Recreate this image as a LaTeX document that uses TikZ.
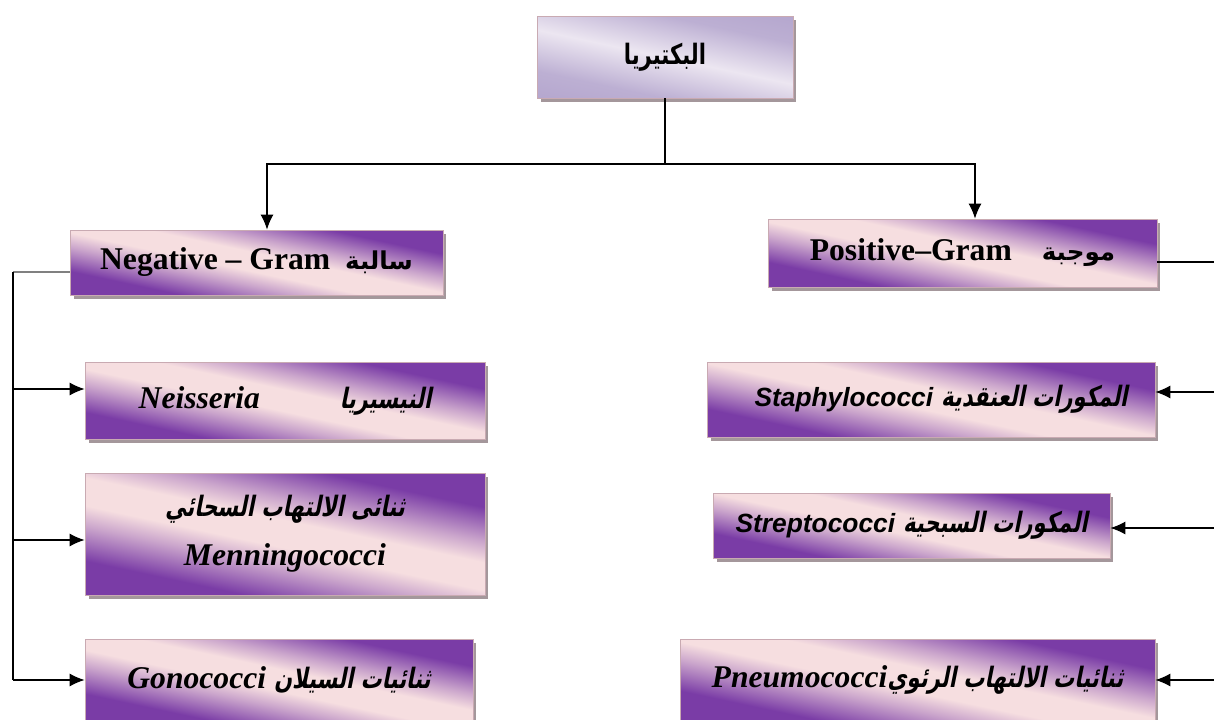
\documentclass[tikz,border=0pt]{standalone}
\usepackage{fontspec}
\setmainfont{Liberation Serif}
\setsansfont{Liberation Sans}
\newfontfamily\arabicfont[Script=Arabic]{DejaVu Sans}
\newfontfamily\arabicnarrow[Script=Arabic,FakeStretch=0.75]{DejaVu Sans}
\newfontfamily\arabicit[Script=Arabic,FakeSlant=0.2,FakeStretch=0.75]{DejaVu Sans}
\TeXXeTstate=1
\newcommand\arabup[1]{{\arabicfont\upshape\fontsize{14}{17}\selectfont\beginR #1\endR}}
\newcommand\arabsl[1]{{\arabicit\upshape\fontsize{16}{19}\selectfont\beginR #1\endR}}
\usetikzlibrary{shadows,arrows.meta}
\definecolor{boxpink}{HTML}{F6DEE0}
\definecolor{boxpurple}{HTML}{7A3CA6}
\definecolor{lavlight}{HTML}{ECE6F1}
\definecolor{lavdark}{HTML}{A898C6}
\definecolor{boxedge}{HTML}{C9AAB2}
\definecolor{shadowgray}{HTML}{A4979B}
\pgfdeclarehorizontalshading{pinkpurple}{100bp}{color(0bp)=(boxpurple); color(30bp)=(boxpurple); color(40bp)=(boxpurple!35!boxpink); color(46bp)=(boxpink); color(54bp)=(boxpink); color(60bp)=(boxpurple!35!boxpink); color(70bp)=(boxpurple); color(100bp)=(boxpurple)}
\pgfdeclarehorizontalshading{lavender}{100bp}{color(0bp)=(lavdark); color(32bp)=(lavdark!70!lavlight); color(50bp)=(lavlight); color(68bp)=(lavdark!70!lavlight); color(100bp)=(lavdark)}
\tikzset{>={Latex[length=3mm,width=2.6mm]}}
\tikzset{
  genus/.style = {
    draw=boxedge, line width=0.4pt, shade, shading=pinkpurple, shading angle=78,
    drop shadow={shadow xshift=0.07cm, shadow yshift=-0.08cm, fill=shadowgray, opacity=1},
    inner sep=0pt, align=center, font=\fontsize{18}{28}\selectfont\bfseries
  },
  root/.style = {genus, shading=lavender},
  link/.style = {line width=0.8pt}
}

\begin{document}
\begin{tikzpicture}[x=0.02cm,y=-0.02cm]
  \useasboundingbox (0,0) rectangle (1214,720);
  \clip (0,0) rectangle (1214,720);
  % top
  \node[root, minimum width=5.12cm, minimum height=1.64cm] (bact) at (665,57)
    {\arabicnarrow\fontsize{16}{19}\selectfont\beginR البكتيريا\endR};
  % gram groups
  \node[genus, minimum width=7.46cm, minimum height=1.3cm] (neg) at (256.5,262.5)
    {Negative -- Gram\hspace{0.3cm}\arabup{سالبة}};
  \node[genus, minimum width=7.78cm, minimum height=1.36cm] (pos) at (962.5,253)
    {Positive--Gram\hspace{0.6cm}\arabup{موجبة}};
  % negative
  \node[genus, minimum width=8cm, minimum height=1.54cm] (neis) at (285,400.5)
    {{\itshape Neisseria}\hspace{1.6cm}\arabsl{النيسيريا}};
  \node[genus, minimum width=8cm, minimum height=2.44cm] (menn) at (285,534)
    {\arabsl{ثنائى الالتهاب السحائي}\\ \itshape Menningococci};
  \node[genus, minimum width=7.76cm, minimum height=1.64cm] (gono) at (279,680)
    {{\itshape Gonococci} \arabsl{ثنائيات السيلان}};
  % positive
  \node[genus, minimum width=8.96cm, minimum height=1.5cm] (staph) at (931,399.5)
    {\hspace{0.4cm}{\sffamily\itshape\fontsize{15}{18}\selectfont Staphylococci} \arabsl{المكورات العنقدية}};
  \node[genus, minimum width=7.94cm, minimum height=1.3cm] (strep) at (911.5,525.5)
    {{\sffamily\itshape\fontsize{15}{18}\selectfont Streptococci} \arabsl{المكورات السبحية}};
  \node[genus, minimum width=9.5cm, minimum height=1.64cm] (pneu) at (917.5,680)
    {{\itshape Pneumococci}\arabsl{ثنائيات الالتهاب الرئوي}};
  % lines
  \coordinate (hub) at (665,164);
  \coordinate (lbus) at (13,272);
  \coordinate (rbus) at (1214,262);
  \draw[link] (bact.south) -- (hub);
  \draw[link,->] (hub) -| ([xshift=0.21cm]neg.north);
  \draw[link,->] (hub) -| ([xshift=0.25cm]pos.north);
  \draw[link,gray] (lbus -| neg.west) -- (lbus);
  \draw[link] (lbus) -- (lbus |- gono.west);
  \foreach \b/\s in {neis/0.23,menn/-0.12,gono/0}
    \draw[link,->] ([yshift=\s cm]\b.west -| lbus) -- ([yshift=\s cm]\b.west);
  \draw[link] (rbus -| pos.east) -- (rbus);
  \foreach \b/\s in {staph/0.15,strep/-0.05,pneu/0}
    \draw[link,->] ([yshift=\s cm]\b.east -| rbus) -- ([yshift=\s cm]\b.east);
\end{tikzpicture}
\end{document}
